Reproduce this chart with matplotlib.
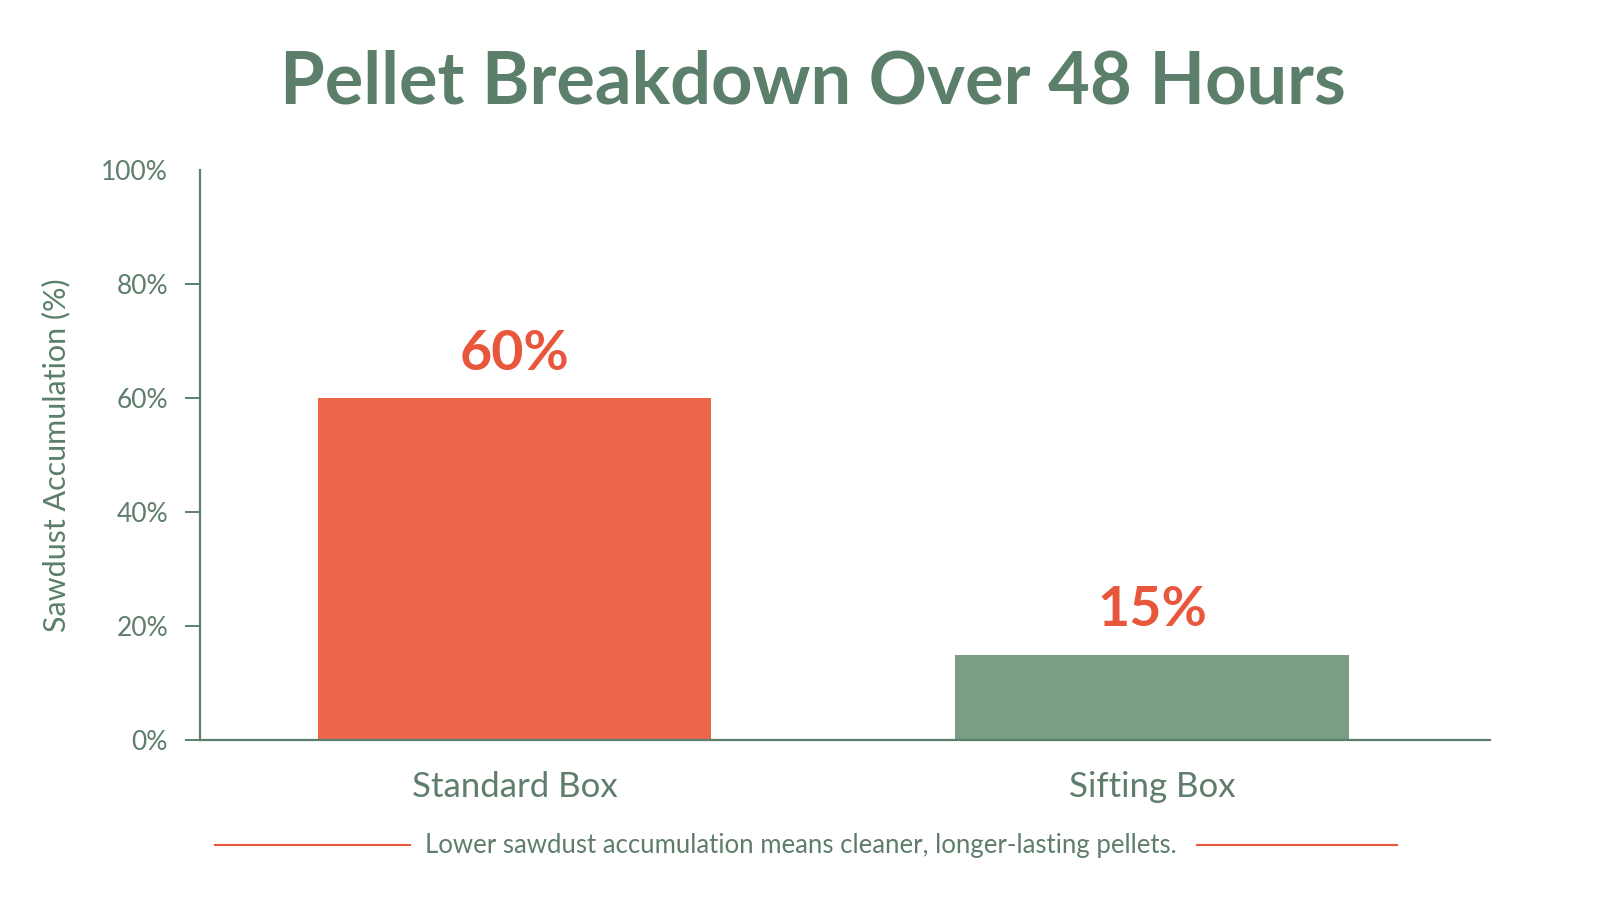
import matplotlib
matplotlib.use("Agg")
import matplotlib.pyplot as plt
from matplotlib.lines import Line2D

categories = ["Standard Box", "Sifting Box"]
values = [60, 15]
bar_colors = ["#ec674a", "#7a9e84"]
yticks = [0, 20, 40, 60, 80, 100]
ytick_labels = ["0%", "20%", "40%", "60%", "80%", "100%"]
title = "Pellet Breakdown Over 48 Hours"
ylabel = "Sawdust Accumulation (%)"
caption = "Lower sawdust accumulation means cleaner, longer-lasting pellets."

green = "#5b7f6a"
tick_col = "#5f7d6b"
red = "#e8563b"

plt.rcParams['font.family'] = ['Lato', 'DejaVu Sans']

fig = plt.figure(figsize=(15.99, 9.0), dpi=100)
ax = fig.add_axes([200/1599, 1-740/900, 1290/1599, 570/900])

x = list(range(len(categories)))
ax.bar(x, values, width=0.617, color=bar_colors, zorder=2)
ax.set_xlim(-0.493, 1.530)
ax.set_ylim(0, 100)

for xi, v in zip(x, values):
    ax.annotate(f"{v}%", (xi, v), xytext=(0, 14), textcoords="offset points",
                ha="center", va="bottom", fontsize=40, fontweight="bold", color=red)

for s in ["top", "right"]:
    ax.spines[s].set_visible(False)
for s in ["left", "bottom"]:
    ax.spines[s].set_color(green)
    ax.spines[s].set_linewidth(1.6)

ax.set_yticks(yticks)
ax.set_yticklabels(ytick_labels)
ax.tick_params(axis="y", length=11, width=1.4, color=green, labelsize=19,
               labelcolor=tick_col, pad=12)
ax.yaxis.get_major_ticks()[-1].tick1line.set_visible(False)
ax.set_xticks(x)
ax.set_xticklabels(categories)
ax.tick_params(axis="x", length=0, labelsize=25, labelcolor=tick_col, pad=22)

ax.set_ylabel(ylabel, fontsize=22, color=green, labelpad=22)

fig.text(813/1599, 1-83/900, title, ha="center", va="center", fontsize=52,
         fontweight="bold", color=green)

fig.text(801/1599, 1-845/900, caption, ha="center", va="center", fontsize=18.5, color=tick_col)
fig.add_artist(Line2D([215/1599, 410/1599], [1-845/900]*2, color=red, lw=1.5))
fig.add_artist(Line2D([1197/1599, 1397/1599], [1-845/900]*2, color=red, lw=1.5))

fig.savefig("out.png", dpi=100, facecolor="white")
